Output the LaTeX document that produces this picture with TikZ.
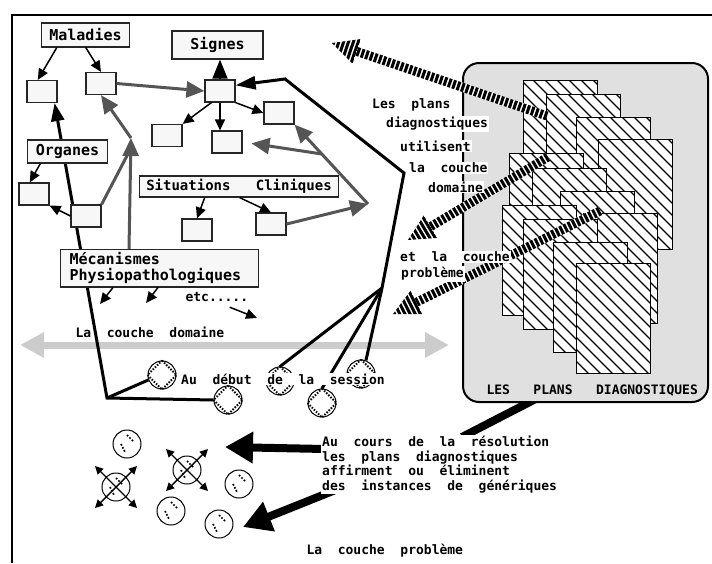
\documentclass[tikz,border=0pt]{standalone}
\usepackage{fontspec}
\setmonofont{DejaVu Sans Mono}
\usetikzlibrary{arrows.meta,calc,backgrounds}

\definecolor{boxfill}{HTML}{F7F7F7}
\definecolor{planfill}{HTML}{E0E0E0}
\definecolor{linkgray}{HTML}{555555}
\definecolor{bandgray}{HTML}{CCCCCC}

\tikzset{
  every node/.style={font=\ttfamily\bfseries\fontsize{13}{14.5}\selectfont},
  concept/.style={draw=black!85, line width=1.2pt, fill=boxfill, inner xsep=8pt,
    minimum height=24pt, font=\ttfamily\bfseries\fontsize{15}{16}\selectfont},
  slot/.style={draw=black!85, line width=1.2pt, fill=boxfill, minimum width=30pt,
    minimum height=22pt, inner sep=0pt},
  link/.style={line width=1.5pt, -{Triangle[length=11pt,width=10pt]}},
  bighead/.style={line width=1.5pt, -{Triangle[length=19pt,width=15pt]}},
  graylink/.style={draw=linkgray, line width=3pt, -{Triangle[length=18pt,width=16pt]}},
  grayline/.style={draw=linkgray, line width=3pt},
  sessionline/.style={line width=3pt},
  band/.style={draw=bandgray, line width=7pt,
    {Triangle[length=24pt,width=24pt]}-{Triangle[length=24pt,width=24pt]}},
  stripe/.style={dash pattern=on 3pt off 1.6pt},
  seed/.style={circle, draw, line width=1pt, fill=white, minimum size=28pt, inner sep=0pt},
  checker/.style={line width=2pt, dash pattern=on 1.5pt off 1.5pt},
  speck/.style={line width=1.7pt, dash pattern=on 1.7pt off 1.7pt},
  burst/.style={line width=1.4pt, {Triangle[length=8pt,width=8pt]}-{Triangle[length=8pt,width=8pt]}},
  caption/.style={fill=white, inner sep=1pt, anchor=west},
  push/.style={line width=8pt, -{Triangle[length=28pt,width=30pt]}},
}

\begin{document}
\begin{tikzpicture}[x=1pt,y=-1pt]
  \useasboundingbox (0,0) rectangle (712,563);
  \draw[line width=2pt] (12,563) -- (12,15) -- (712,15);

  % les plans diagnostiques
  \node[draw, line width=2pt, rounded corners=16pt, fill=planfill,
        minimum width=245pt, minimum height=339pt] (plans) at (585.5,232.5) {};
  \foreach \x/\y in {523/80,546/94,576/117,598/139,509/153,532/168,560/191,583/213,
                     502/205,523/219,553/242,576/263} {
    \begin{scope}
      \clip (\x,\y) rectangle ++(74,110);
      \fill[white] (\x,\y) rectangle ++(74,110);
      \foreach \k in {0,...,15}
        \draw[line width=1.2pt] (\x-110+\k*12,\y) -- ++(120,120);
    \end{scope}
    \draw[line width=1pt] (\x,\y) rectangle ++(74,110);
  }
  \node[anchor=west] (planstitle) at (483,391) {LES~~~PLANS~~~DIAGNOSTIQUES};

  % fleches hachurees
  \coordinate (s1t) at (547,116); \coordinate (s1h) at (332,43);
  \coordinate (s2t) at (548,157); \coordinate (s2h) at (408,240);
  \coordinate (s3t) at (600,211); \coordinate (s3h) at (393,314);
  \foreach \pa/\pb in {s1t/s1h,s2t/s2h,s3t/s3h} {
    \coordinate (hb) at ($(\pb)!26pt!(\pa)$);
    \draw[white, line width=9pt] (\pa) -- (hb);
    \draw[stripe, line width=9pt] (\pa) -- (hb);
    \begin{scope}
      \clip (\pb) -- ($(hb)!13pt!90:(\pb)$) -- ($(hb)!13pt!-90:(\pb)$) -- cycle;
      \draw[white, line width=28pt] (hb) -- (\pb);
      \draw[stripe, line width=28pt] (hb) -- (\pb);
    \end{scope}
  }
  \node[caption] (cap1) at (371,105) {Les~~plans};
  \node[caption] (cap2) at (385,124) {diagnostiques};
  \node[caption] (cap3) at (399,146) {utilisent};
  \node[caption] (cap4) at (408,168) {la~~couche};
  \node[caption] (cap5) at (427,187) {domaine};
  \node[caption] (cap6) at (399,257) {et~~la~~couche};
  \node[caption] (cap7) at (400,274) {problème};

  % la couche domaine
  \node[concept] (maladies) at (85.5,35) {Maladies};
  \node[concept, minimum width=91pt, minimum height=28pt] (signes) at (217.5,45) {Signes};
  \node[concept, minimum height=23pt] (organes) at (67.5,151.5) {Organes};
  \node[concept, minimum height=21pt, inner xsep=7pt,
        font=\ttfamily\bfseries\fontsize{14}{15}\selectfont] (situations) at (239,186.5) {Situations~~~Cliniques};
  \node[concept, anchor=north west, align=left, text width=180pt, inner xsep=9pt,
        minimum height=37pt, inner ysep=3pt] (mecanismes) at (60,249) {Mécanismes\\Physiopathologiques};

  \node[slot] (malA) at (42,91.5) {};
  \node[slot] (malB) at (101,83.5) {};
  \node[slot] (hub) at (220,91) {};
  \node[slot] (sigD) at (279,113) {};
  \node[slot] (sigE) at (167,135.5) {};
  \node[slot] (sigF) at (227,142) {};
  \node[slot] (orgG) at (34,194) {};
  \node[slot] (orgH) at (86,216) {};
  \node[slot] (sitI) at (197,230) {};
  \node[slot] (sitJ) at (271,224) {};

  \node[anchor=west] (etc) at (182,297) {etc.....};
  \coordinate (m1) at (100,304);
  \coordinate (m2) at (146,303);
  \coordinate (m3) at (257,318);

  \draw[link] ([xshift=16pt]maladies.south west) -- (malA.110);
  \draw[link] ([xshift=45pt]maladies.south west) -- (malB.north);
  \draw[bighead] (hub.north) -- (hub.north |- signes.south);
  \draw[link] (hub.south east) -- (sigD.west);
  \draw[link] ([xshift=7pt]hub.south west) -- (sigE.north east);
  \draw[link] (hub.south) -- (hub.south |- sigF.north);
  \draw[link] ([xshift=13pt]organes.south west) -- (orgG.110);
  \draw[link] (orgH.west) -- (orgG.south east);
  \draw[link] ([xshift=66pt]situations.south west) -- (sitI.north);
  \draw[link] ([xshift=101pt]situations.south west) -- (sitJ.north);
  \draw[link] ([xshift=53pt]mecanismes.south west) -- (m1);
  \draw[link] ([xshift=98pt]mecanismes.south west) -- (m2);
  \draw[link] ([xshift=-22pt,yshift=-2pt]etc.south east) -- (m3);

  \coordinate (jn) at (131,138);
  \coordinate (jr) at (368,204);
  \draw[graylink] (malB.east) -- (hub.west);
  \draw[graylink] ([xshift=69pt]mecanismes.north west) -- (jn);
  \draw[grayline] (orgH.north east) -- ($(jn)+(-1,12)$);
  \draw[graylink] (jn) -- (malB.south);
  \draw[graylink] (sitJ.east) -- (jr);
  \draw[graylink] (jr) -- (sigD.south east);
  \draw[graylink, shorten >=9pt] ($(jr)!0.63!(sigD.south east)$) -- (sigF.east);

  \node[anchor=west] (domaine) at (72,332) {La~~couche~~domaine};
  \coordinate (bandL) at (20,345);
  \coordinate (bandR) at (449,345);

  % debut de la session
  \node[seed] (u1) at (162,375) {};
  \node[seed] (u2) at (228,400) {};
  \node[seed] (u3) at (280,381) {};
  \node[seed] (u4) at (322,403) {};
  \node[seed] (u5) at (361,374) {};
  \foreach \u in {u1,u2,u3,u4,u5}
    \draw[checker] (\u.north) -- (\u.east) -- (\u.south) -- (\u.west) -- cycle;

  \coordinate (h1) at (285,79);
  \coordinate (h2) at (404,173);
  \coordinate (h3) at (382,288);
  \coordinate (h4) at (107,398);
  \draw[sessionline, {Triangle[length=20pt,width=13pt]}-] (hub.20) -- (h1) -- (h2) -- (h3);
  \draw[sessionline] (h3) -- (u3.north);
  \draw[sessionline] (h3) -- (u4.north);
  \draw[sessionline] (h3) -- (u5.70);
  \node[caption] (session) at (180,379) {Au~~début~~de~~la~~session};

  % la couche probleme
  \node[seed] (c1) at (127,444) {};
  \node[seed] (c2) at (116,487) {};
  \node[seed] (c3) at (187,470) {};
  \node[seed] (c4) at (239,484) {};
  \node[seed] (c5) at (171,511) {};
  \node[seed] (c6) at (219,524) {};
  \foreach \c in {c1,c2,c3,c4,c5,c6} {
    \draw[speck] ($(\c.center)+(0,-9)$) -- ++(7,7);
    \draw[speck] ($(\c.center)+(-6,0)$) -- ++(4,8);
  }
  \foreach \c in {c2,c3} {
    \draw[burst] ($(\c.center)+(-21,21)$) -- ($(\c.center)+(21,-21)$);
    \draw[burst] ($(\c.center)+(-21,-21)$) -- ($(\c.center)+(21,21)$);
  }
  \coordinate (pA) at (225,447);
  \coordinate (pB) at (243,527);
  \node[caption, anchor=north west, align=left] (resol) at (321,435)
    {Au~~cours~~de~~la~~résolution\\les~~plans~~diagnostiques\\affirment~~ou~~éliminent\\des~~instances~~de~~génériques};
  \node[anchor=west] (probleme) at (303,551) {La~~couche~~problème};

  \begin{scope}[on background layer]
    \draw[band] (bandL) -- (bandR);
    \draw[sessionline, {Triangle[length=18pt,width=13pt]}-] ([xshift=-3pt]malA.south east) -- (h4) -- (u2.west);
    \draw[sessionline] (h4) -- (u1.200);
    \draw[line width=8pt] ([xshift=-46pt,yshift=6pt]plans.south) -- ([xshift=141pt,yshift=-2pt]resol.north west);
    \draw[push] ([xshift=4pt,yshift=-14pt]resol.north west) -- (pA);
    \draw[push] ([xshift=14pt,yshift=4pt]resol.south west) -- (pB);
  \end{scope}
\end{tikzpicture}
\end{document}
